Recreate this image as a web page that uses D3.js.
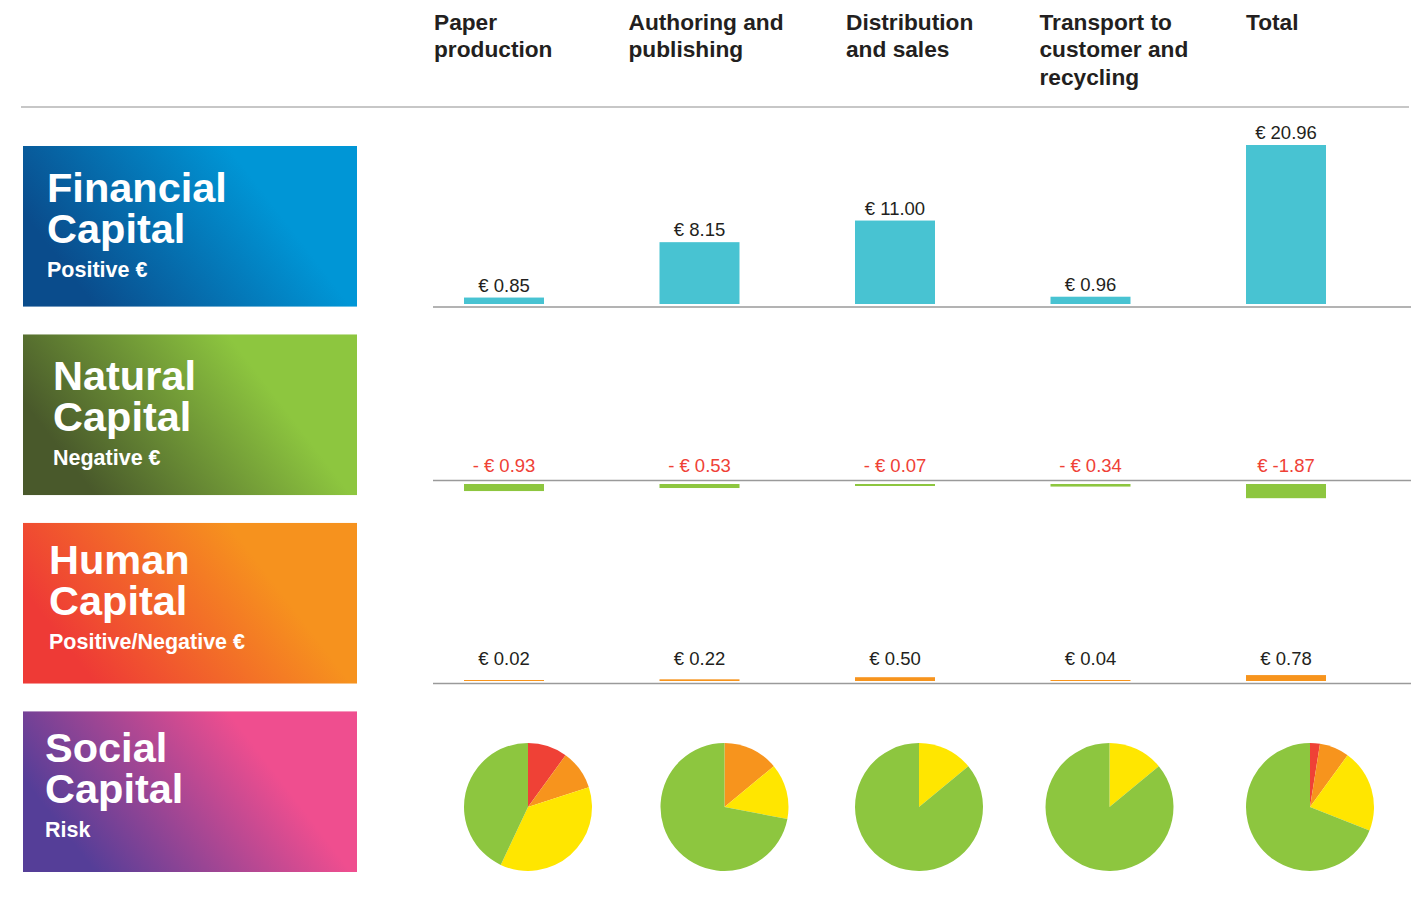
<!DOCTYPE html>
<html>
<head>
<meta charset="utf-8">
<script src="https://cdn.jsdelivr.net/npm/d3@7/dist/d3.min.js"></script>
<style>
  html, body { margin: 0; padding: 0; background: #fff; }
  svg { display: block; font-family: "Liberation Sans", Arial, Helvetica, sans-serif; }
</style>
</head>
<body>
<svg id="chart" width="1420" height="909"></svg>
<script>
// Value chain stages (columns)
const stages = ["Paper production", "Authoring and publishing", "Distribution and sales", "Transport to customer and recycling", "Total"];
const stageHeaderLines = [
  ["Paper", "production"],
  ["Authoring and", "publishing"],
  ["Distribution", "and sales"],
  ["Transport to", "customer and", "recycling"],
  ["Total"]
];

// Capitals (rows)
const capitalTitles = ["Financial", "Natural", "Human", "Social"];
const capitalSubtitles = ["Positive €", "Negative €", "Positive/Negative €", "Risk"];

// Values in € per stage
const financialValues = [0.85, 8.15, 11.00, 0.96, 20.96];
const financialLabels = ["€ 0.85", "€ 8.15", "€ 11.00", "€ 0.96", "€ 20.96"];
const naturalValues = [-0.93, -0.53, -0.07, -0.34, -1.87];
const naturalLabels = ["- € 0.93", "- € 0.53", "- € 0.07", "- € 0.34", "€ -1.87"];
const humanValues = [0.02, 0.22, 0.50, 0.04, 0.78];
const humanLabels = ["€ 0.02", "€ 0.22", "€ 0.50", "€ 0.04", "€ 0.78"];

// Social risk shares per stage (%), high → low risk
const riskLevels = ["High", "Elevated", "Medium", "Low"];
const socialRisk = [
  [10, 10, 37, 43],
  [0, 14, 14, 72],
  [0, 0, 14, 86],
  [0, 0, 14, 86],
  [2.5, 7.5, 21, 69]
];

// ---------- layout ----------
const svg = d3.select("#chart");
const textDark = "#231f20";
const riskColor = d3.scaleOrdinal().domain(riskLevels).range(["#ef4136", "#f7941d", "#ffe600", "#8dc63f"]);

const x = d3.scalePoint().domain(stages).range([504, 1286]);
const barW = 80;
const headerShift = [-70, -71, -49, -51, -40];
const pieShift = [24, 25, 24, 19, 24];

// single € → px scale shared by all bar rows
const h = d3.scaleLinear().domain([0, 20.96]).range([0, 159]);

// Column headers
const header = svg.append("g");
stages.forEach((s, i) => {
  const t = header.append("text")
    .attr("x", x(s) + headerShift[i])
    .attr("y", 30)
    .attr("font-size", 22.7)
    .attr("font-weight", "bold")
    .attr("fill", textDark);
  stageHeaderLines[i].forEach((line, j) => {
    t.append("tspan").attr("x", x(s) + headerShift[i]).attr("dy", j === 0 ? 0 : 27.3).text(line);
  });
});
svg.append("line").attr("x1", 21).attr("x2", 1409).attr("y1", 107).attr("y2", 107)
  .attr("stroke", "#b5b5b5").attr("stroke-width", 1.5);

// Capital panels with diagonal gradients
const panelY = d3.scaleBand().domain(capitalTitles).range([146, 872]).paddingInner(0.148);
const panelX = 23, panelW = 334;
const gradStops = [
  ["#0a4c8c", "#0096d6"],
  ["#49592b", "#8dc63f"],
  ["#ee3a36", "#f6921e"],
  ["#553e98", "#ef4e8f"]
];
const titleX = [47, 53, 49, 45];
const titleLift = [0, 0, -5, -5];
const defs = svg.append("defs");
capitalTitles.forEach((c, i) => {
  const y0 = panelY(c);
  const g = defs.append("linearGradient").attr("id", "grad" + i)
    .attr("gradientUnits", "userSpaceOnUse")
    .attr("x1", panelX + 67).attr("y1", y0 + 154)
    .attr("x2", panelX + 228).attr("y2", y0 + 30);
  g.append("stop").attr("offset", 0).attr("stop-color", gradStops[i][0]);
  g.append("stop").attr("offset", 1).attr("stop-color", gradStops[i][1]);

  svg.append("rect").attr("x", panelX).attr("y", y0).attr("width", panelW).attr("height", panelY.bandwidth())
    .attr("fill", `url(#grad${i})`);
  const tx = titleX[i], ty = y0 + titleLift[i];
  // two-line title set as one block
  const title = svg.append("text").attr("x", tx).attr("y", ty + 56)
    .attr("font-size", 41.5).attr("font-weight", "bold").attr("fill", "#fff");
  title.append("tspan").attr("x", tx).attr("dy", 0).text(c);
  title.append("tspan").attr("x", tx).attr("dy", 41).text("Capital");
  svg.append("text").attr("x", tx).attr("y", ty + 131).attr("font-size", 21.5).attr("font-weight", "bold")
    .attr("fill", "#fff").text(capitalSubtitles[i]);
});

function baseline(y) {
  svg.append("line").attr("x1", 433).attr("x2", 1411).attr("y1", y).attr("y2", y)
    .attr("stroke", "#9a9a9a").attr("stroke-width", 1.3);
}

// Financial row: bars rising from the row baseline
const finBase = 304;
baseline(307);
svg.append("g").selectAll("rect").data(financialValues).join("rect")
  .attr("x", (d, i) => x(stages[i]) - barW / 2)
  .attr("y", d => finBase - h(d))
  .attr("width", barW)
  .attr("height", d => h(d))
  .attr("fill", "#48c3d2");
svg.append("g").selectAll("text").data(financialValues).join("text")
  .attr("x", (d, i) => x(stages[i]))
  .attr("y", d => finBase - h(d) - 6)
  .attr("text-anchor", "middle").attr("font-size", 18.5).attr("fill", textDark)
  .text((d, i) => financialLabels[i]);

// Natural row: negative bars hanging below the baseline
const natTop = 484;
baseline(480.5);
svg.append("g").selectAll("rect").data(naturalValues).join("rect")
  .attr("x", (d, i) => x(stages[i]) - barW / 2)
  .attr("y", natTop)
  .attr("width", barW)
  .attr("height", d => Math.max(2, h(-d)))
  .attr("fill", "#8dc63f");
svg.append("g").selectAll("text").data(naturalValues).join("text")
  .attr("x", (d, i) => x(stages[i]))
  .attr("y", 472)
  .attr("text-anchor", "middle").attr("font-size", 18.5).attr("fill", "#ef4136")
  .text((d, i) => naturalLabels[i]);

// Human row
const humBase = 681;
baseline(683.5);
svg.append("g").selectAll("rect").data(humanValues).join("rect")
  .attr("x", (d, i) => x(stages[i]) - barW / 2)
  .attr("y", d => humBase - Math.max(1, h(d)))
  .attr("width", barW)
  .attr("height", d => Math.max(1, h(d)))
  .attr("fill", "#f7941d");
svg.append("g").selectAll("text").data(humanValues).join("text")
  .attr("x", (d, i) => x(stages[i]))
  .attr("y", 665)
  .attr("text-anchor", "middle").attr("font-size", 18.5).attr("fill", textDark)
  .text((d, i) => humanLabels[i]);

// Social row: risk pies
const pie = d3.pie().sort(null).value(d => d.v);
const arc = d3.arc().innerRadius(0).outerRadius(64);
socialRisk.forEach((shares, i) => {
  const g = svg.append("g").attr("transform", `translate(${x(stages[i]) + pieShift[i]},807)`);
  const data = shares.map((v, k) => ({ level: riskLevels[k], v }));
  g.selectAll("path").data(pie(data).filter(d => d.data.v > 0)).join("path")
    .attr("d", arc)
    .attr("fill", d => riskColor(d.data.level));
});
</script>
</body>
</html>
